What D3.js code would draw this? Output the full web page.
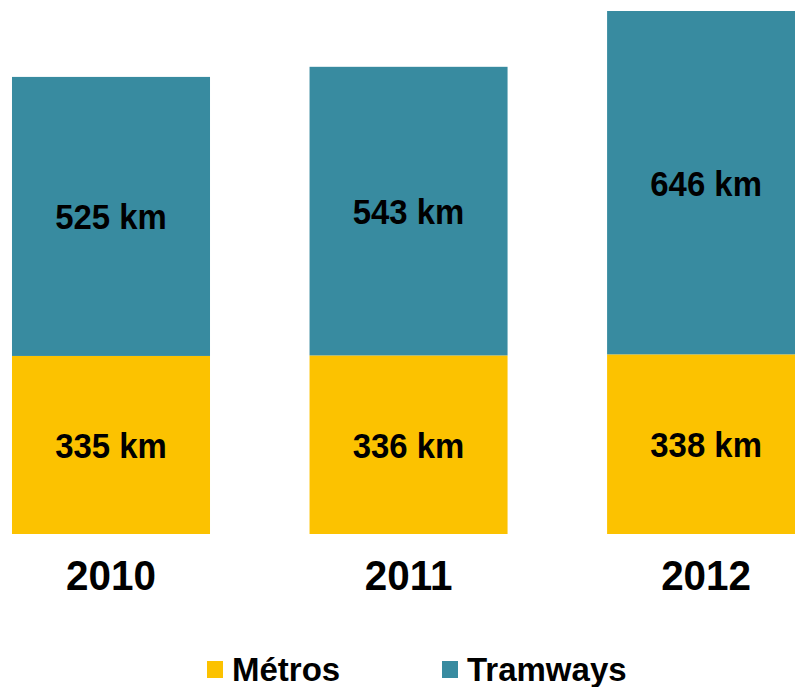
<!DOCTYPE html>
<html>
<head>
<meta charset="utf-8">
<script src="https://cdn.jsdelivr.net/npm/d3@7"></script>
<style>
  body { margin: 0; background: #fff; overflow: hidden; }
  text { font-family: "Liberation Sans", Arial, sans-serif; font-weight: bold; fill: #000; }
</style>
</head>
<body>
<div id="chart"></div>
<script>
// data
var years = ["2010", "2011", "2012"];
var metros = [335, 336, 338];
var tramways = [525, 543, 646];
var seriesNames = ["Métros", "Tramways"];
var colors = ["#fcc200", "#388ba0"];

var width = 795, height = 687;

var svg = d3.select("#chart")
  .append("svg")
    .attr("width", width)
    .attr("height", height);

// scales
var x = d3.scaleBand()
  .domain(years)
  .range([-37.7, 854.8])
  .paddingInner(0.3345)
  .paddingOuter(0.167);

var y = d3.scaleLinear()
  .domain([0, 1000])
  .range([534, 2.5]);

var rows = years.map(function(d, i) {
  return { year: d, "Métros": metros[i], "Tramways": tramways[i] };
});
var stacked = d3.stack().keys(seriesNames)(rows);

var layer = svg.selectAll("g.layer")
  .data(stacked)
  .enter().append("g")
    .attr("class", "layer")
    .attr("fill", function(d, i) { return colors[i]; });

layer.selectAll("rect")
  .data(function(d) { return d; })
  .enter().append("rect")
    .attr("x", function(d) { return x(d.data.year); })
    .attr("y", function(d) { return y(d[1]); })
    .attr("width", x.bandwidth())
    .attr("height", function(d) { return y(d[0]) - y(d[1]); });

// value labels, a bit condensed like the original
layer.selectAll("text")
  .data(function(d) { return d; })
  .enter().append("text")
    .attr("text-anchor", "middle")
    .attr("font-size", 35)
    .attr("transform", function(d) {
      var cx = x(d.data.year) + x.bandwidth() / 2;
      var cy = (y(d[0]) + y(d[1])) / 2 + 13;
      return "translate(" + cx + "," + cy + ") scale(0.94,1)";
    })
    .text(function(d) { return (d[1] - d[0]) + " km"; });

// year labels
svg.selectAll("text.year")
  .data(years)
  .enter().append("text")
    .attr("class", "year")
    .attr("text-anchor", "middle")
    .attr("font-size", 43)
    .attr("transform", function(d) {
      return "translate(" + (x(d) + x.bandwidth() / 2) + ",590) scale(0.94,1)";
    })
    .text(function(d) { return d; });

// legend
var legendX = [207, 442];
var legend = svg.selectAll("g.legend")
  .data(seriesNames)
  .enter().append("g")
    .attr("class", "legend")
    .attr("transform", function(d, i) { return "translate(" + legendX[i] + ",661)"; });

legend.append("rect")
  .attr("width", 16)
  .attr("height", 17)
  .attr("fill", function(d, i) { return colors[i]; });

legend.append("text")
  .attr("font-size", 33)
  .attr("x", 25)
  .attr("y", 20)
  .text(function(d) { return d; });
</script>
</body>
</html>
